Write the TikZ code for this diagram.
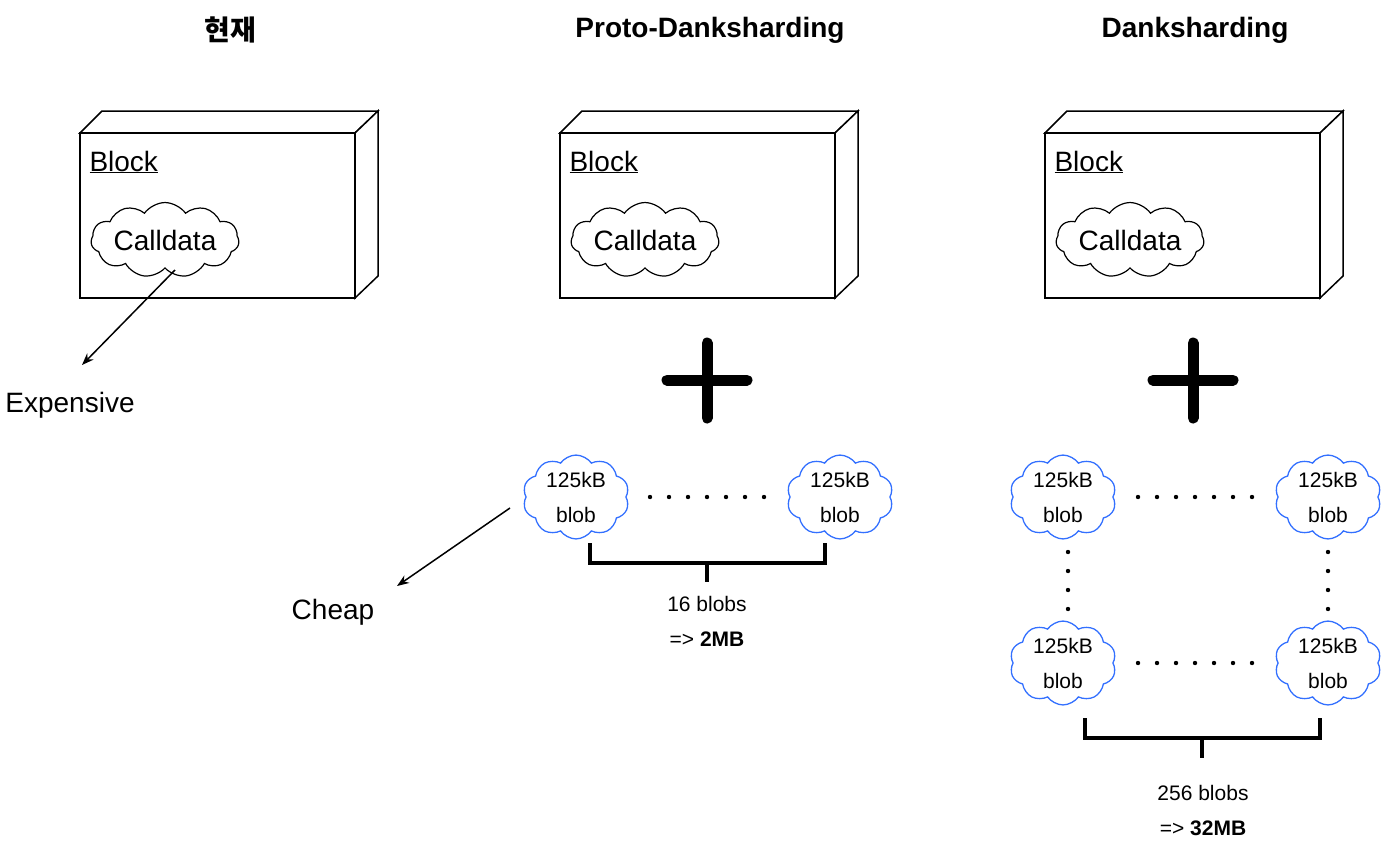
\documentclass[tikz,border=0pt]{standalone}
\usepackage{fontspec}
\setmainfont{Liberation Sans}
\newfontfamily\krfont{Noto Sans CJK KR}
\usetikzlibrary{shapes.symbols,arrows.meta}
\begin{document}
\begin{tikzpicture}[x=1pt,y=-1pt,
  title/.style={font=\fontsize{28}{32}\selectfont\bfseries},
  box/.style={draw,line width=1.5pt,fill=white},
  cloudc/.style={cloud,cloud puffs=11,cloud puff arc=110,aspect=2.6,draw,line width=1.2pt,inner sep=0pt,minimum width=148pt,minimum height=55pt,font=\fontsize{28}{32}\selectfont},
  blob/.style={cloud,cloud puffs=10,cloud puff arc=110,aspect=1.4,draw=blue!70!cyan!80,line width=1.3pt,inner sep=0pt,minimum width=98pt,minimum height=66pt,align=center,font=\fontsize{21}{35}\selectfont},
  lbl/.style={font=\fontsize{28}{32}\selectfont},
  small/.style={align=center,font=\fontsize{21}{35}\selectfont},
  brk/.style={line width=3.5pt},
  arr/.style={-{Stealth[length=12pt,width=9pt]},line width=1.5pt}]
\useasboundingbox (0,0) rectangle (1400,851);
% titles
\node[title] (t1) at (230,30) {\krfont 현재};
\node[title] (t2) at (710,30) {Proto-Danksharding};
\node[title] (t3) at (1195,30) {Danksharding};
% blocks
\foreach \x/\n in {80/b1,560/b2,1045/b3}{
  \draw[box] (\x,133) -- (\x+22,111) -- (\x+298,111) -- (\x+275,133) -- cycle;
  \draw[box] (\x+275,133) -- (\x+298,111) -- (\x+298,276) -- (\x+275,298) -- cycle;
  \draw[box] (\x,133) rectangle (\x+275,298);
  \node[lbl,anchor=west] (\n l) at (\x+6,162) {\underline{Block}};
  \node[cloudc] (\n c) at (\x+85,240) {Calldata};
}
\node[lbl] (exp) at (70,405) {Expensive};
\coordinate (ea) at (175,270);
\draw[arr] (ea) -- (82,365);
% plus
\foreach \x/\n in {707/p1,1193/p2}{
  \coordinate (\n) at (\x,380);
  \draw[line width=11pt,line cap=round] (\x-40,380) -- (\x+40,380);
  \draw[line width=11pt,line cap=round] (\x,343) -- (\x,418);
}
% proto blobs
\node[blob] (pb1) at (576,497) {125kB\\blob};
\node[blob] (pb2) at (840,497) {125kB\\blob};
\foreach \x in {650,669,688,707,726,745,764}{ \fill (\x,497) circle (2.2pt); }
\draw[brk] (590,543) -- (590,563) -- (825,563) -- (825,543);
\draw[brk] (707,563) -- (707,582);
\node[small] (pt) at (707,621) {16 blobs\\=> \textbf{2MB}};
\coordinate (ca) at (510,508);
\draw[arr] (ca) -- (397,586);
\node[lbl] (cheap) at (333,612) {Cheap};
% dank blobs
\node[blob] (d1) at (1063,497) {125kB\\blob};
\node[blob] (d2) at (1328,497) {125kB\\blob};
\node[blob] (d3) at (1063,663) {125kB\\blob};
\node[blob] (d4) at (1328,663) {125kB\\blob};
\foreach \x in {1138,1157,1176,1195,1214,1233,1252}{ \fill (\x,497) circle (2.2pt); \fill (\x,663) circle (2.2pt); }
\foreach \x in {1068,1328}{
  \foreach \y in {552,571,590,609}{ \fill (\x,\y) circle (2.2pt); }
}
\draw[brk] (1085,718) -- (1085,738) -- (1320,738) -- (1320,718);
\draw[brk] (1202,738) -- (1202,758);
\node[small] (dt) at (1203,810) {256 blobs\\=> \textbf{32MB}};
\end{tikzpicture}
\end{document}
